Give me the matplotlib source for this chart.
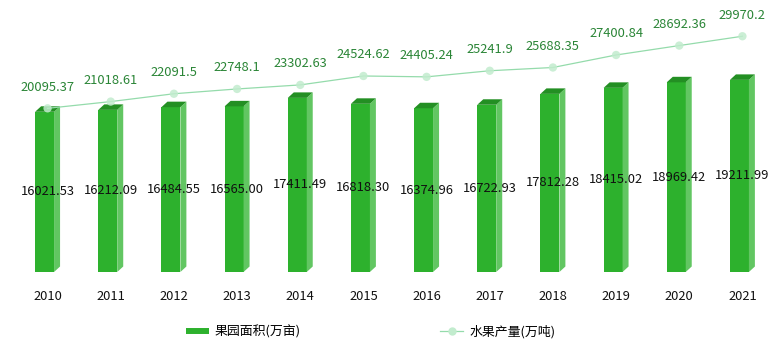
import matplotlib
matplotlib.use('Agg')
import matplotlib.pyplot as plt
from matplotlib.lines import Line2D

plt.rcParams['font.family'] = ['Noto Sans CJK SC', 'DejaVu Sans']

years = ['2010', '2011', '2012', '2013', '2014', '2015',
         '2016', '2017', '2018', '2019', '2020', '2021']
# 果园面积(万亩)
area = [16021.53, 16212.09, 16484.55, 16565.00, 17411.49, 16818.30,
        16374.96, 16722.93, 17812.28, 18415.02, 18969.42, 19211.99]
area_labels = ['16021.53', '16212.09', '16484.55', '16565.00', '17411.49', '16818.30',
               '16374.96', '16722.93', '17812.28', '18415.02', '18969.42', '19211.99']
# 水果产量(万吨)
output = [20095.37, 21018.61, 22091.5, 22748.1, 23302.63, 24524.62,
          24405.24, 25241.9, 25688.35, 27400.84, 28692.36, 29970.2]
output_labels = ['20095.37', '21018.61', '22091.5', '22748.1', '23302.63', '24524.62',
                 '24405.24', '25241.9', '25688.35', '27400.84', '28692.36', '29970.2']

front_c = '#2db12d'
side_c = '#62c662'
top_c = '#238f23'
line_c = '#94dbab'
mark_c = '#c2ecce'
lab_c = '#2a8536'

fig = plt.figure(figsize=(7.74, 3.44), dpi=100)
ax = fig.add_axes([16 / 774, 72 / 344, 758 / 774, 252 / 344])
ax.set_xlim(-0.5, len(years) - 0.5)
ax.set_ylim(0, 25200)

x = list(range(len(years)))
fw = 0.30      # front width
d = 0.095      # depth (x)
h = 550        # depth (y, data units)
for xi, v in zip(x, area):
    xl = xi - (fw + d) / 2
    xr = xl + fw
    ax.bar(xl, v, width=fw, align='edge', color=front_c, zorder=2)
    ax.fill([xr, xr + d, xr + d, xr], [0, h, v + h, v], color=side_c, lw=0, zorder=2)
    ax.fill([xl, xr, xr + d, xl + d], [v, v, v + h, v + h], color=top_c, lw=0, zorder=2)

for xi, v, s in zip(x, area, area_labels):
    ax.text(xi, v / 2, s, ha='center', va='center', fontsize=9.3, color='#111111', zorder=5)

ax.set_xticks(x)
ax.set_xticklabels(years, fontsize=9.3, color='#111111')
ax.tick_params(axis='x', length=0, pad=13)
ax.set_yticks([])
for sp in ax.spines.values():
    sp.set_visible(False)

ax2 = ax.twinx()
ax2.set_ylim(-2330, 32195)
ax2.plot(x, output, color=line_c, lw=0.9, zorder=3)
ax2.scatter(x, output, s=36, color=mark_c, alpha=0.85, edgecolors='none', zorder=4)
for xi, v, s in zip(x, output, output_labels):
    ax2.annotate(s, (xi, v), xytext=(0, 21 * 0.72), textcoords='offset points',
                 ha='center', va='center', fontsize=9.3, color=lab_c)
ax2.set_yticks([])
for sp in ax2.spines.values():
    sp.set_visible(False)

handles = [
    Line2D([0], [0], color=front_c, lw=4.3, solid_capstyle='butt'),
    Line2D([0], [0], color=line_c, lw=0.9, marker='o', markersize=5,
           markerfacecolor=mark_c, markeredgecolor=mark_c),
]
fig.legend(handles, ['果园面积(万亩)', '水果产量(万吨)'], loc='center',
           bbox_to_anchor=(0.479, 12 / 344), ncol=2, frameon=False,
           fontsize=9.3, handlelength=1.77, handletextpad=0.46,
           columnspacing=10.8)

fig.savefig('out.png', dpi=100)
